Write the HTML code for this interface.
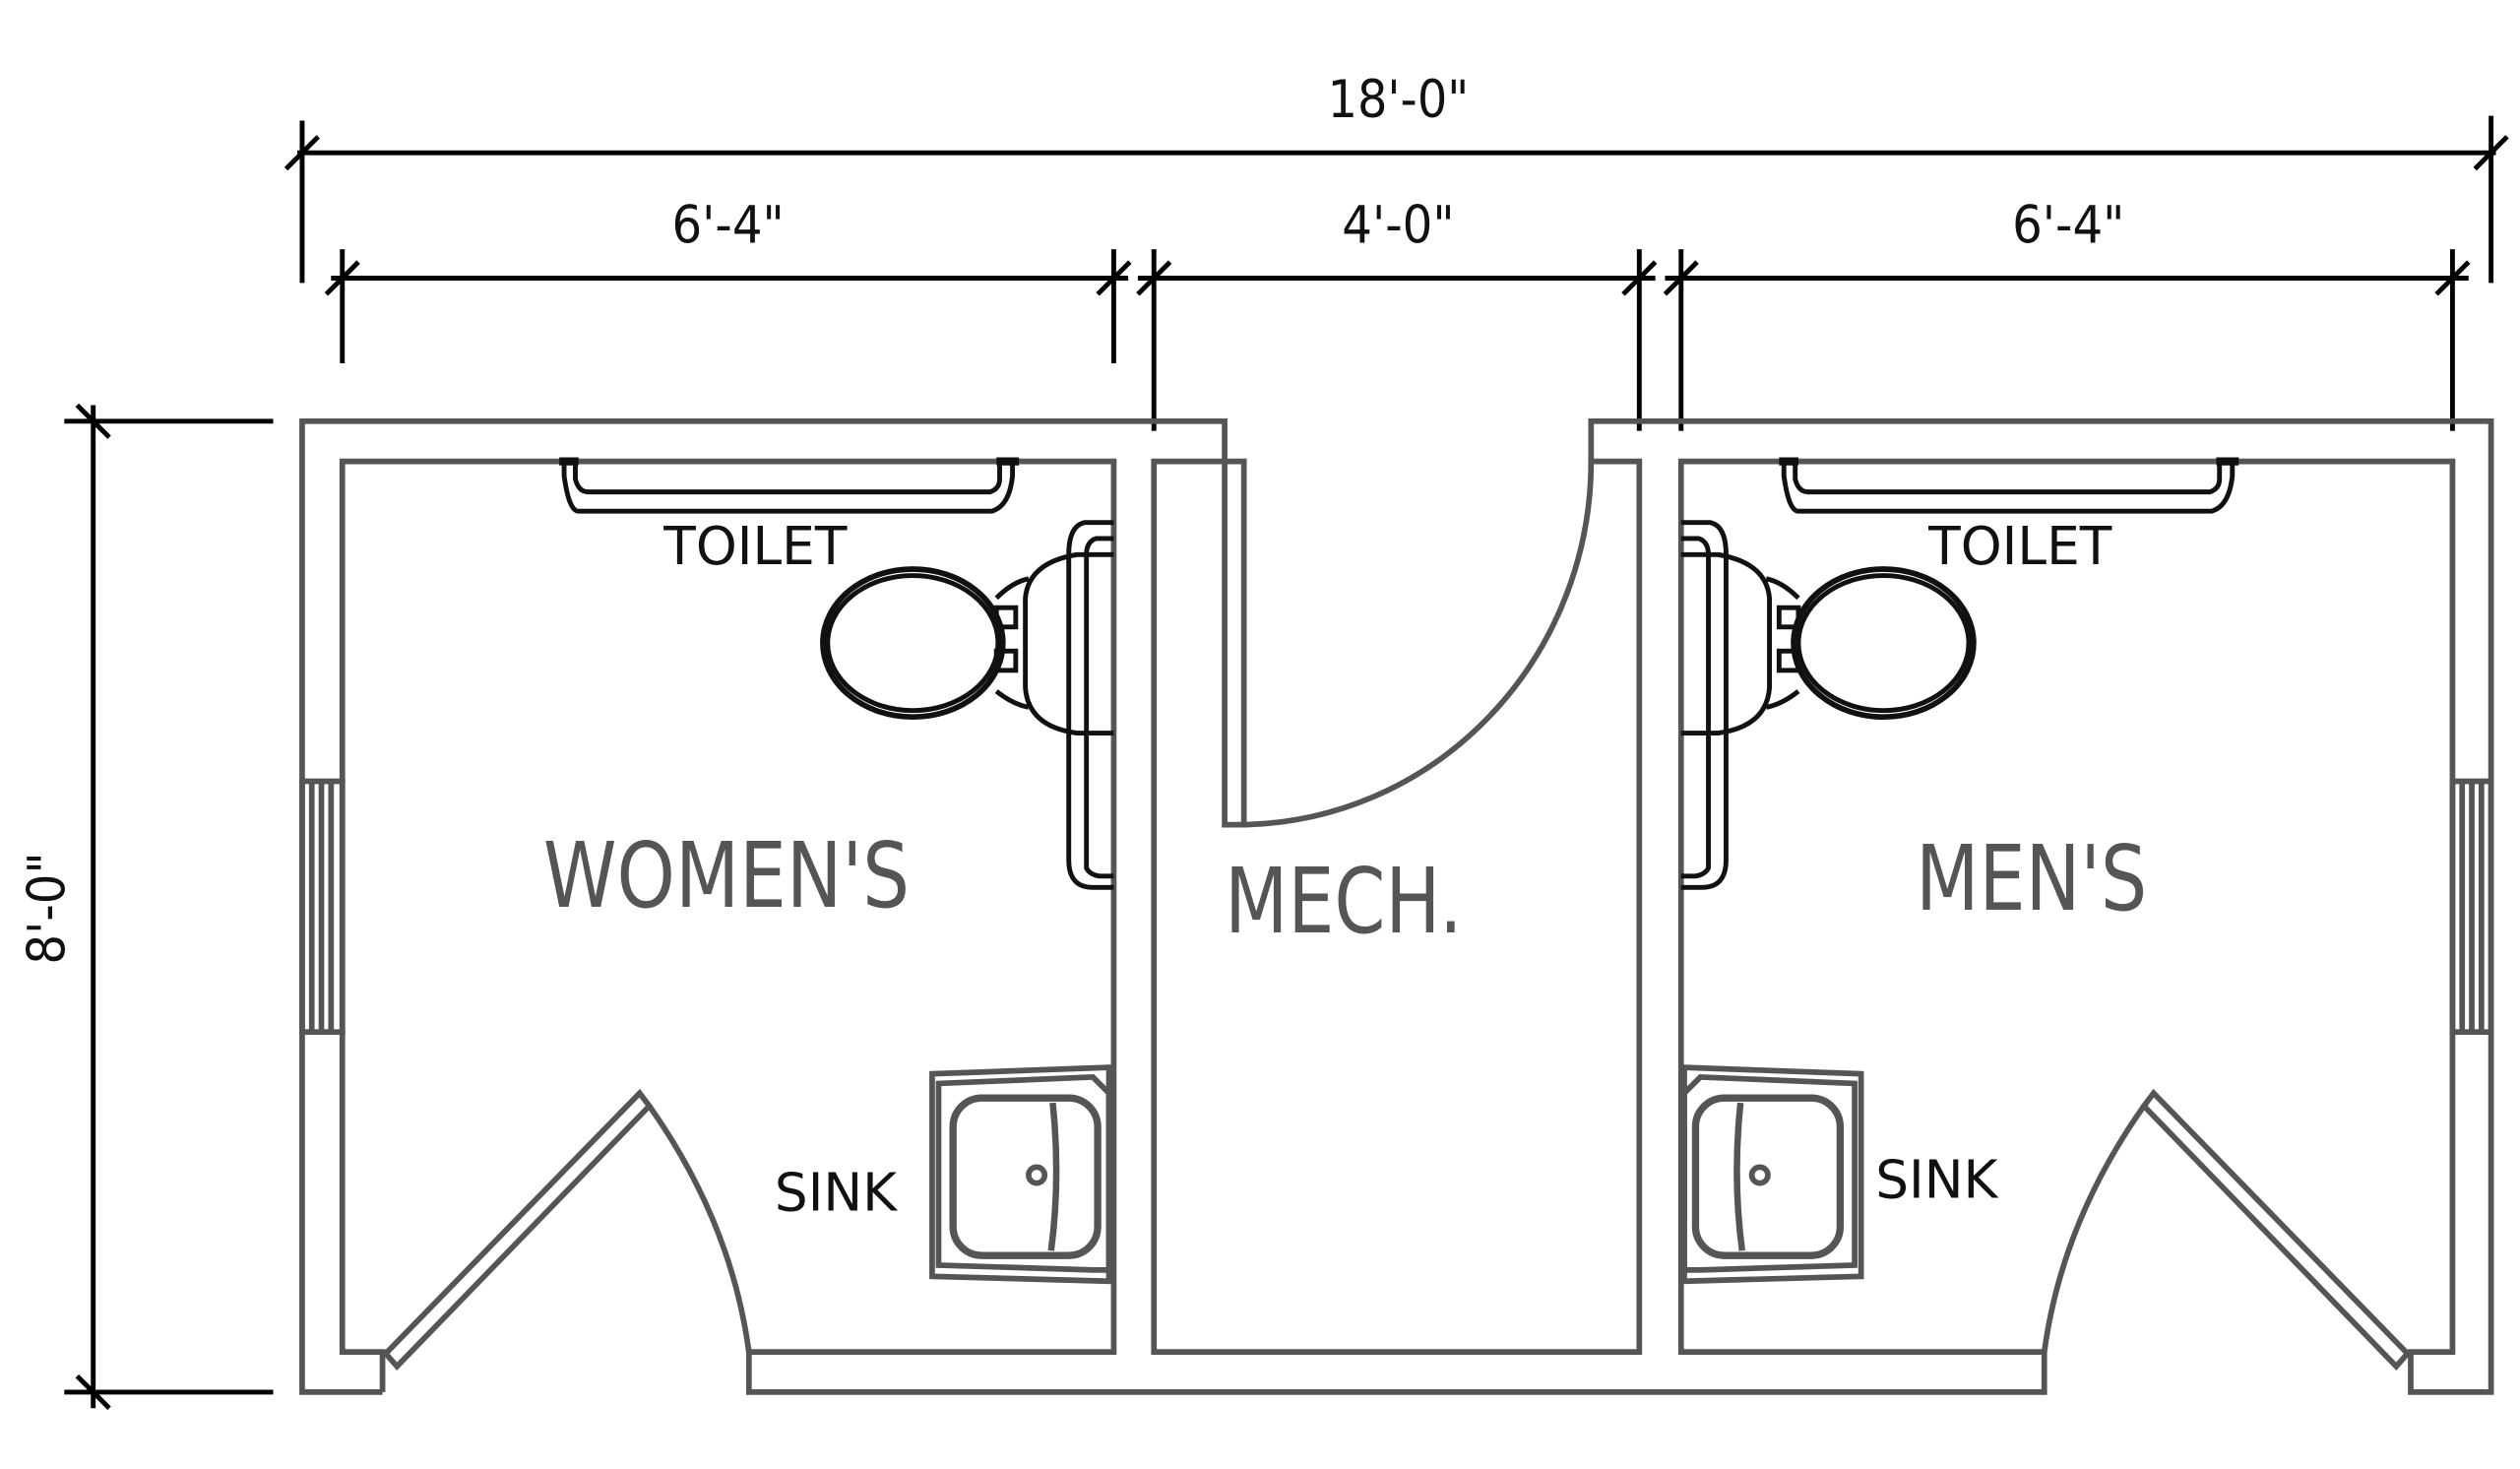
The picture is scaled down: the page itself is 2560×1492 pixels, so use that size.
<!DOCTYPE html>
<html><head><meta charset="utf-8"><style>
html,body{margin:0;padding:0;background:#fff;}
svg{display:block;}
text{font-family:"DejaVu Sans","Liberation Sans",sans-serif;}
</style></head><body>
<svg width="2560" height="1492" viewBox="0 0 1568 913.8" xmlns="http://www.w3.org/2000/svg">
<rect width="1568" height="914" fill="#fff"/>
<g stroke="#000" stroke-width="3" fill="none">
<line x1="185" y1="95" x2="1553" y2="95"/>
<line x1="188" y1="75" x2="188" y2="176"/>
<line x1="1550" y1="72" x2="1550" y2="176"/>
<line x1="178" y1="105" x2="198" y2="85"/>
<line x1="1540" y1="105" x2="1560" y2="85"/>
<line x1="206" y1="173" x2="702" y2="173"/>
<line x1="213" y1="155" x2="213" y2="226"/>
<line x1="693" y1="155" x2="693" y2="226"/>
<line x1="203" y1="183" x2="223" y2="163"/>
<line x1="683" y1="183" x2="703" y2="163"/>
<line x1="708" y1="173" x2="1030" y2="173"/>
<line x1="718" y1="155" x2="718" y2="268"/>
<line x1="1020" y1="155" x2="1020" y2="268"/>
<line x1="708" y1="183" x2="728" y2="163"/>
<line x1="1010" y1="183" x2="1030" y2="163"/>
<line x1="1036" y1="173" x2="1536" y2="173"/>
<line x1="1046" y1="155" x2="1046" y2="268"/>
<line x1="1526" y1="155" x2="1526" y2="268"/>
<line x1="1036" y1="183" x2="1056" y2="163"/>
<line x1="1516" y1="183" x2="1536" y2="163"/>
<line x1="58" y1="252" x2="58" y2="876"/>
<line x1="40" y1="262" x2="170" y2="262"/>
<line x1="40" y1="866" x2="170" y2="866"/>
<line x1="48" y1="252" x2="68" y2="272"/>
<line x1="48" y1="856" x2="68" y2="876"/>
</g>
<g font-size="32" fill="#111" text-anchor="middle">
<text x="870" y="73" textLength="88" lengthAdjust="spacingAndGlyphs">18'-0"</text>
<text x="453" y="151" textLength="70" lengthAdjust="spacingAndGlyphs">6'-4"</text>
<text x="870" y="151" textLength="70" lengthAdjust="spacingAndGlyphs">4'-0"</text>
<text x="1287" y="151" textLength="70" lengthAdjust="spacingAndGlyphs">6'-4"</text>
<text x="0" y="0" transform="translate(40,565) rotate(-90)" textLength="70" lengthAdjust="spacingAndGlyphs">8'-0"</text>
</g>
<g stroke="#555" stroke-width="3.5" fill="none">
<polyline points="238,866 188,866 188,262 762,262 762,513 774,513 774,287 718,287 718,841 1020,841 1020,287 990,287 990,262 1550,262 1550,866 1500,866 1500,841 1526,841 1526,287 1046,287 1046,841 1272,841 1272,866 466,866 466,841 693,841 693,287 213,287 213,841 238,841 238,866"/>
<path d="M774,513 A220,226 0 0 0 990,287"/>
<rect x="188" y="486" width="25" height="156"/>
<line x1="194" y1="486" x2="194" y2="642"/><line x1="200" y1="486" x2="200" y2="642"/><line x1="206" y1="486" x2="206" y2="642"/>
<rect x="1526" y="486" width="24" height="156"/>
<line x1="1532" y1="486" x2="1532" y2="642"/><line x1="1538" y1="486" x2="1538" y2="642"/><line x1="1544" y1="486" x2="1544" y2="642"/>
<polygon points="240,842 398,680 404,688 247,850"/>
<path d="M404,688 Q455,760 466,841"/>
<polygon points="1498,842 1340,680 1334,688 1491,850"/>
<path d="M1334,688 Q1283,760 1272,841"/>
<path d="M580,668 L690,664 L690,797 L580,794 Z"/>
<path d="M584,674 L680,670 L690,680 L690,790 L680,790 L584,787 Z"/>
<rect x="593" y="683" width="90" height="98" rx="18" stroke-width="4.5"/>
<path d="M655,686 Q660,733 654,778" stroke-width="4"/>
<circle cx="645" cy="731" r="5"/>
<path d="M1158,668 L1048,664 L1048,797 L1158,794 Z"/>
<path d="M1154,674 L1058,670 L1048,680 L1048,790 L1058,790 L1154,787 Z"/>
<rect x="1055" y="683" width="90" height="98" rx="18" stroke-width="4.5"/>
<path d="M1083,686 Q1078,733 1084,778" stroke-width="4"/>
<circle cx="1095" cy="731" r="5"/>
</g>
<g stroke="#111" stroke-width="3" fill="none">
<path d="M351,288 L351,296 Q354,318 360,318 L617,318 Q628,315 630,296 L630,288"/>
<path d="M358,288 L358,298 Q360,306 366,306 L616,306 Q622,304 622,298 L622,288"/>
<line x1="348" y1="287" x2="360" y2="287" stroke-width="5"/><line x1="620" y1="287" x2="634" y2="287" stroke-width="5"/>
<ellipse cx="568" cy="400" rx="56" ry="46" stroke-width="3.5"/>
<ellipse cx="568" cy="400" rx="53" ry="42"/>
<path d="M620,372 Q630,362 640,360 M620,430 Q630,438 640,440"/>
<rect x="620" y="378" width="12" height="12"/><rect x="620" y="405" width="12" height="12"/>
<path d="M693,345 L670,345 Q640,350 638,372 L638,428 Q640,452 670,456 L693,456"/>
<path d="M693,325 L675,325 Q665,327 665,345 L665,535 Q665,552 680,552 L693,552"/>
<path d="M693,335 L682,335 Q676,337 676,345 L676,540 Q678,544 684,545 L693,545"/>
<path d="M1110,288 L1110,296 Q1113,318 1119,318 L1376,318 Q1387,315 1389,296 L1389,288"/>
<path d="M1117,288 L1117,298 Q1119,306 1125,306 L1375,306 Q1381,304 1381,298 L1381,288"/>
<line x1="1107" y1="287" x2="1119" y2="287" stroke-width="5"/><line x1="1379" y1="287" x2="1393" y2="287" stroke-width="5"/>
<ellipse cx="1172" cy="400" rx="56" ry="46" stroke-width="3.5"/>
<ellipse cx="1172" cy="400" rx="53" ry="42"/>
<path d="M1119,372 Q1109,362 1099,360 M1119,430 Q1109,438 1099,440"/>
<rect x="1107" y="378" width="12" height="12"/><rect x="1107" y="405" width="12" height="12"/>
<path d="M1046,345 L1069,345 Q1099,350 1101,372 L1101,428 Q1099,452 1069,456 L1046,456"/>
<path d="M1046,325 L1064,325 Q1074,327 1074,345 L1074,535 Q1074,552 1059,552 L1046,552"/>
<path d="M1046,335 L1057,335 Q1063,337 1063,345 L1063,540 Q1061,544 1055,545 L1046,545"/>
</g>
<g fill="#111" font-size="33" text-anchor="middle">
<text x="470" y="351" textLength="114" lengthAdjust="spacingAndGlyphs">TOILET</text>
<text x="1257" y="351" textLength="114" lengthAdjust="spacingAndGlyphs">TOILET</text>
<text x="520" y="753" textLength="76" lengthAdjust="spacingAndGlyphs">SINK</text>
<text x="1205" y="745" textLength="76" lengthAdjust="spacingAndGlyphs">SINK</text>
</g>
<g fill="#555" font-size="56" text-anchor="middle">
<text x="452" y="564" textLength="228" lengthAdjust="spacingAndGlyphs">WOMEN'S</text>
<text x="836" y="580" textLength="148" lengthAdjust="spacingAndGlyphs">MECH.</text>
<text x="1264" y="566" textLength="144" lengthAdjust="spacingAndGlyphs">MEN'S</text>
</g>
</svg>
</body></html>
